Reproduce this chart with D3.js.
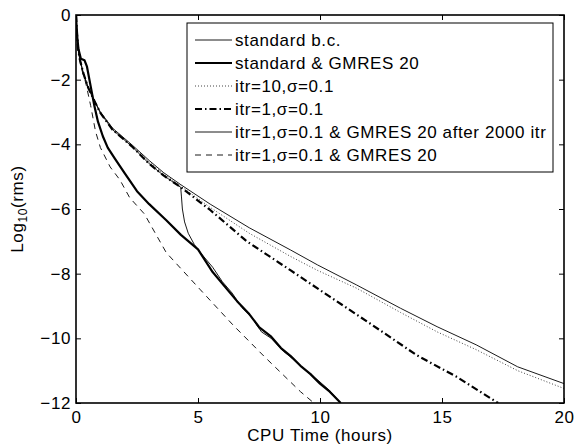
<!DOCTYPE html>
<html><head><meta charset="utf-8">
<script src="https://cdn.jsdelivr.net/npm/d3@7"></script>
<style>body{margin:0;background:#fff}svg{display:block}</style>
</head><body>
<svg id="c" width="576" height="447"></svg>
<script>
// ---- data ----
const xTicks = [0, 5, 10, 15, 20];
const yTicks = [0, -2, -4, -6, -8, -10, -12];
const legendLabels = ["standard b.c.", "standard & GMRES 20", "itr=10,σ=0.1", "itr=1,σ=0.1",
  "itr=1,σ=0.1 & GMRES 20 after 2000 itr", "itr=1,σ=0.1 & GMRES 20"];

const stdX = [0,0.03,0.08,0.15,0.3,0.5,0.75,1.0,1.5,2.3,3.0,3.6,4.3,5.5,7.1,8.8,9.9,11.5,13.3,14.8,16.4,18.1,20];
const stdY = [0,-0.4,-1.0,-1.35,-1.8,-2.25,-2.65,-3.0,-3.5,-4.02,-4.5,-4.88,-5.25,-5.85,-6.58,-7.27,-7.73,-8.35,-9.07,-9.64,-10.2,-10.88,-11.4];

const gmX = [0,0.04,0.1,0.2,0.35,0.45,0.6,0.75,0.9,1.1,1.3,1.6,2.0,2.5,3.0,3.7,4.3,5.0,5.6,6.1,6.6,7.1,7.5,8.0,8.4,8.8,9.2,9.6,10.0,10.4,10.85];
const gmY = [0,-0.6,-1.05,-1.35,-1.4,-1.6,-2.2,-2.8,-3.3,-3.75,-4.1,-4.45,-4.9,-5.45,-5.85,-6.35,-6.8,-7.25,-7.95,-8.4,-8.85,-9.25,-9.65,-9.95,-10.3,-10.55,-10.85,-11.1,-11.4,-11.65,-12];

const itr10X = [0,0.03,0.08,0.15,0.3,0.5,0.75,1.0,1.5,2.3,3.0,3.6,4.3,5.5,7.1,8.8,9.9,11.5,13.3,14.8,16.4,18.1,20];
const itr10Y = [0,-0.4,-1.0,-1.35,-1.8,-2.25,-2.65,-3.02,-3.52,-4.05,-4.55,-4.92,-5.3,-5.95,-6.75,-7.47,-7.9,-8.45,-9.2,-9.8,-10.35,-11.0,-11.55];

const itr1X = [0,0.03,0.08,0.15,0.3,0.5,0.75,1.0,1.5,2.3,3.0,3.6,4.3,5.5,7.0,8.8,10.4,12.05,13.96,15.6,17.3];
const itr1Y = [0,-0.4,-1.0,-1.35,-1.8,-2.25,-2.65,-3.03,-3.55,-4.07,-4.6,-4.97,-5.33,-6.03,-7.0,-7.9,-8.71,-9.54,-10.52,-11.19,-12];

const swX = [0,0.03,0.08,0.15,0.3,0.5,0.75,1.0,1.5,2.3,3.0,3.6,4.29,4.32,4.36,4.45,4.6,4.85,5.1,5.6,6.0,6.4,6.8,7.2,7.6,8.0,8.5,9.0,9.5,10.0,10.4,10.85];
const swY = [0,-0.4,-1.0,-1.35,-1.8,-2.25,-2.65,-3.03,-3.55,-4.07,-4.6,-4.97,-5.33,-5.6,-6.0,-6.4,-6.75,-7.1,-7.35,-7.8,-8.25,-8.6,-9.05,-9.35,-9.8,-10.0,-10.4,-10.7,-11.05,-11.35,-11.62,-12];

const gdX = [0,0.04,0.1,0.2,0.4,0.6,0.8,1.0,1.4,1.8,2.2,2.8,3.7,5.1,6.45,7.7,9.2,9.75];
const gdY = [0,-0.6,-1.1,-1.6,-2.1,-2.8,-3.6,-4.1,-4.7,-5.1,-5.65,-6.15,-7.35,-8.5,-9.6,-10.55,-11.65,-12];

// ---- layout ----
const svg = d3.select("#c");
const L = 76, R = 564, T = 15, B = 403;
const x = d3.scaleLinear().domain([0, 20]).range([L, R]);
const y = d3.scaleLinear().domain([-12, 0]).range([B, T]);
const font = "'Liberation Sans', Arial, Helvetica, sans-serif";
const fs = 17, ls = "0.6px";

svg.append("defs").append("clipPath").attr("id", "clip")
  .append("rect").attr("x", L).attr("y", T).attr("width", R - L).attr("height", B - T);

const series = [
  {xs: stdX, ys: stdY, w: 0.9, dash: null},
  {xs: gmX, ys: gmY, w: 2.2, dash: null},
  {xs: itr10X, ys: itr10Y, w: 1, dash: "1,2", color: "#444"},
  {xs: itr1X, ys: itr1Y, w: 2.2, dash: "7,3,1.5,3"},
  {xs: swX, ys: swY, w: 0.9, dash: null},
  {xs: gdX, ys: gdY, w: 0.9, dash: "6,5"}
];

const line = d3.line().x(d => x(d[0])).y(d => y(d[1]));
const g = svg.append("g").attr("clip-path", "url(#clip)");
series.forEach(s => {
  g.append("path").datum(d3.zip(s.xs, s.ys)).attr("d", line)
    .attr("fill", "none").attr("stroke", s.color || "#000").attr("stroke-width", s.w)
    .attr("stroke-dasharray", s.dash).attr("stroke-linejoin", "round");
});

// axes (ticks inward)
const fmt = d => d < 0 ? "\u2212" + Math.abs(d) : String(d);
const axB = svg.append("g").attr("transform", `translate(0,${B})`)
  .call(d3.axisBottom(x).tickValues(xTicks).tickSize(-5).tickPadding(8).tickFormat(fmt));
const axT = svg.append("g").attr("transform", `translate(0,${T})`)
  .call(d3.axisTop(x).tickValues(xTicks).tickSize(-5).tickFormat(""));
const axL = svg.append("g").attr("transform", `translate(${L},0)`)
  .call(d3.axisLeft(y).tickValues(yTicks).tickSize(-5).tickPadding(5).tickFormat(fmt));
const axR = svg.append("g").attr("transform", `translate(${R},0)`)
  .call(d3.axisRight(y).tickValues(yTicks).tickSize(-5).tickFormat(""));
[axB, axT, axL, axR].forEach(a => {
  a.select(".domain").remove();
  a.selectAll("line").attr("stroke", "#000").attr("stroke-width", 1);
  a.selectAll("text").attr("font-family", font).attr("font-size", fs).attr("letter-spacing", ls).attr("fill", "#000");
});
svg.append("rect").attr("x", L).attr("y", T).attr("width", R - L).attr("height", B - T)
  .attr("fill", "none").attr("stroke", "#000").attr("stroke-width", 1.6);

// axis labels
svg.append("text").attr("x", (L + R) / 2).attr("y", 441).attr("text-anchor", "middle")
  .attr("font-family", font).attr("font-size", fs).attr("letter-spacing", ls).text("CPU Time (hours)");
const yl = svg.append("text").attr("transform", `translate(23,${(T + B) / 2}) rotate(-90)`)
  .attr("text-anchor", "middle").attr("font-family", font).attr("font-size", fs).attr("letter-spacing", ls);
yl.append("tspan").text("Log");
yl.append("tspan").attr("font-size", 12).attr("dy", 4).text("10");
yl.append("tspan").attr("dy", -4).text("(rms)");

// legend
const lg = svg.append("g");
lg.append("rect").attr("x", 187).attr("y", 23).attr("width", 366).attr("height", 149)
  .attr("fill", "#fff").attr("stroke", "#000").attr("stroke-width", 1);
const rowY = d3.scalePoint().domain(d3.range(legendLabels.length)).range([40, 155]);
legendLabels.forEach((lab, i) => {
  const s = series[i];
  lg.append("line").attr("x1", 195).attr("x2", 232).attr("y1", rowY(i)).attr("y2", rowY(i))
    .attr("stroke", s.color || "#000").attr("stroke-width", s.w).attr("stroke-dasharray", s.dash);
  lg.append("text").attr("x", 235).attr("y", rowY(i)).attr("dy", "0.35em")
    .attr("font-family", font).attr("font-size", fs).attr("letter-spacing", ls).text(lab);
});
</script>
</body></html>
